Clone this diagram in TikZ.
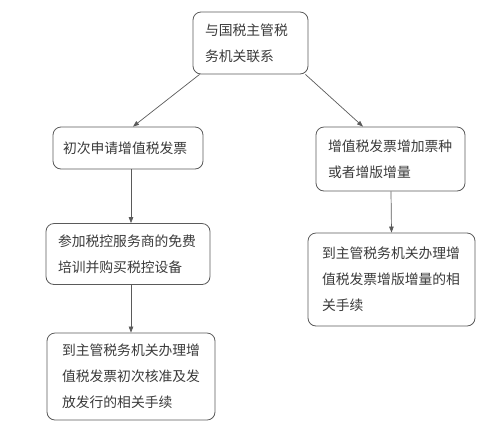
\documentclass[tikz,border=0pt]{standalone}
\usepackage{fontspec}
\newfontfamily\cjk{Noto Sans CJK SC}
\usetikzlibrary{arrows.meta}
\definecolor{linec}{HTML}{5A5A5A}
\definecolor{textc}{HTML}{3A3A3A}
\begin{document}
\begin{tikzpicture}[x=1pt,y=-1pt,
  box/.style={draw=linec, line width=0.8pt, rounded corners=8pt, inner xsep=12pt, inner ysep=0pt,
    align=left, text=textc, font=\cjk\fontsize{13.8}{26}\selectfont},
  conn/.style={draw=linec, line width=0.7pt, -{Triangle[length=6pt,width=4.5pt]}}]
\useasboundingbox (0,0) rectangle (500,432);
\node[box, minimum width=115pt, minimum height=62pt, text width=91pt] (top) at (250.5,43) {与国税主管税\\务机关联系};
\node[box, minimum width=150pt, minimum height=42pt, text width=130pt, inner xsep=10pt] (b2) at (128,148) {初次申请增值税发票};
\node[box, minimum width=149pt, minimum height=64pt, text width=125pt] (b3) at (390.5,159) {增值税发票增加票种\\或者增版增量};
\node[box, minimum width=164pt, minimum height=61pt, text width=140pt] (b4) at (128,254) {参加税控服务商的免费\\培训并购买税控设备};
\node[box, minimum width=167pt, minimum height=93pt, text width=139pt, inner xsep=14pt] (b5) at (391.5,279.5) {到主管税务机关办理增\\值税发票增版增量的相\\关手续};
\node[box, minimum width=168pt, minimum height=87pt, text width=138pt, inner xsep=15pt] (b6) at (131,376.5) {到主管税务机关办理增\\值税发票初次核准及发\\放发行的相关手续};
\draw[conn] ([xshift=7pt]top.south west) -- ([xshift=5pt]b2.north);
\draw[conn] ([xshift=-3pt]top.south east) -- ([xshift=-27.5pt]b3.north);
\draw[conn] ([xshift=3pt]b2.south) -- ([xshift=3pt]b4.north);
\draw[conn] ([xshift=0.5pt]b3.south) -- (b5.north);
\draw[conn] ([xshift=3pt]b4.south) -- (b6.north);
\end{tikzpicture}
\end{document}
